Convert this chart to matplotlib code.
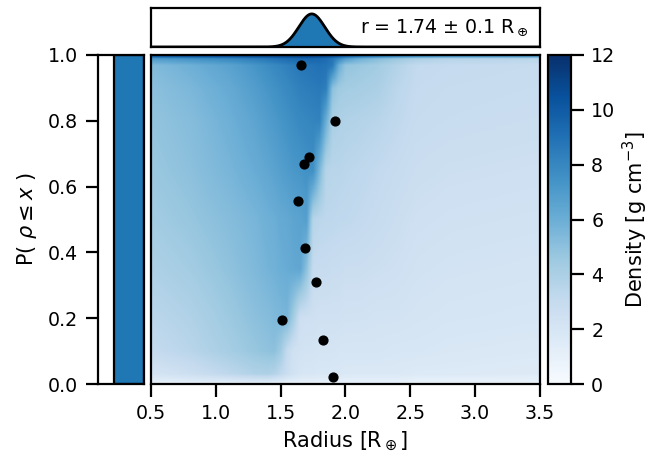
import numpy as np
import matplotlib
matplotlib.use("Agg")
import matplotlib.pyplot as plt

# ---- data ----
radius_mean = 1.74
radius_err = 0.1

# scatter points (radius, P)
pt_radius = [1.66, 1.92, 1.72, 1.68, 1.63, 1.69, 1.77, 1.51, 1.83, 1.90]
pt_prob = [0.969, 0.800, 0.690, 0.668, 0.556, 0.414, 0.309, 0.196, 0.135, 0.021]

# bar in the left panel
bar_value = [1.0]

# density map: rows = P levels, columns = radius knots
grid_radius = [0.5, 0.8, 1.1, 1.3, 1.4, 1.45, 1.5, 1.55, 1.6, 1.65, 1.7, 1.75,
               1.8, 1.85, 1.9, 1.95, 2.0, 2.1, 2.25, 2.4, 2.55, 2.8, 3.5]
grid_prob = [0.0, 0.03, 0.1, 0.2, 0.35, 0.5, 0.65, 0.8, 0.9, 0.97, 0.99, 1.0]
density_table = [
    [1.0, 1.1, 1.2, 1.3, 1.3, 1.2, 1.1, 1.0, 1.0, 1.0, 1.0, 1.0, 0.9, 0.9, 0.9, 0.9, 0.9, 0.9, 0.9, 0.9, 0.8, 0.8, 0.8],
    [2.1, 2.6, 3.3, 3.8, 3.9, 3.7, 3.2, 2.7, 2.3, 2.0, 1.9, 1.9, 1.8, 1.8, 1.8, 1.8, 1.7, 1.7, 1.7, 1.7, 1.6, 1.6, 1.5],
    [3.0, 3.5, 4.2, 4.7, 4.9, 5.0, 4.4, 3.0, 2.4, 2.3, 2.2, 2.2, 2.1, 2.1, 2.1, 2.0, 2.0, 2.0, 2.0, 1.9, 1.9, 1.8, 1.7],
    [3.4, 3.8, 4.5, 5.0, 5.2, 5.4, 5.5, 5.6, 4.2, 2.6, 2.5, 2.5, 2.4, 2.4, 2.4, 2.4, 2.3, 2.3, 2.2, 2.2, 2.1, 2.0, 1.9],
    [3.9, 4.3, 4.9, 5.4, 5.7, 5.8, 6.0, 6.1, 6.3, 6.4, 5.0, 3.0, 2.9, 2.9, 2.8, 2.8, 2.7, 2.7, 2.6, 2.5, 2.3, 2.2, 2.1],
    [4.3, 4.7, 5.2, 5.6, 5.9, 6.0, 6.2, 6.3, 6.5, 6.6, 6.8, 3.6, 3.4, 3.3, 3.3, 3.2, 3.2, 3.1, 2.9, 2.7, 2.5, 2.4, 2.3],
    [4.6, 5.0, 5.6, 6.1, 6.4, 6.6, 6.8, 7.0, 7.2, 7.3, 7.5, 7.6, 5.5, 3.6, 3.5, 3.5, 3.4, 3.3, 3.1, 2.9, 2.7, 2.6, 2.5],
    [4.8, 5.2, 5.9, 6.5, 6.9, 7.1, 7.3, 7.5, 7.7, 7.9, 8.0, 8.1, 8.2, 6.0, 4.0, 3.9, 3.8, 3.7, 3.5, 3.2, 2.9, 2.8, 2.7],
    [5.0, 5.5, 6.2, 6.9, 7.3, 7.5, 7.7, 7.9, 8.1, 8.3, 8.4, 8.5, 8.6, 8.4, 5.0, 4.4, 4.3, 4.2, 4.0, 3.4, 3.0, 2.9, 2.8],
    [5.3, 5.9, 6.6, 7.3, 7.7, 7.9, 8.1, 8.3, 8.5, 8.7, 8.8, 8.9, 9.0, 8.9, 8.6, 6.0, 4.8, 4.6, 4.3, 3.7, 3.1, 3.0, 2.9],
    [7.0, 7.5, 8.0, 8.5, 8.8, 9.0, 9.2, 9.3, 9.4, 9.5, 9.5, 9.5, 9.4, 9.2, 8.8, 8.0, 7.0, 6.0, 5.2, 4.6, 4.0, 3.6, 3.5],
    [11.0, 11.2, 11.4, 11.5, 11.6, 11.6, 11.6, 11.7, 11.7, 11.7, 11.7, 11.7, 11.6, 11.5, 11.3, 11.0, 10.7, 10.3, 9.8, 9.3, 9.0, 8.8, 8.6],
]

xticks = [0.5, 1.0, 1.5, 2.0, 2.5, 3.0, 3.5]
yticks = [0.0, 0.2, 0.4, 0.6, 0.8, 1.0]
cticks = [0, 2, 4, 6, 8, 10, 12]

TICK_FS = 13.7
LABEL_FS = 15
LW = 1.6
TLEN = 9
TPAD = 5.5

plt.rcParams['font.family'] = ['DejaVu Sans']
plt.rcParams['axes.linewidth'] = LW

# resample the table on a fine regular grid for imshow
tab = np.array(density_table)
fine_r = np.linspace(0.5, 3.5, 600)
fine_p = np.linspace(0.0, 1.0, 400)
rows = np.array([np.interp(fine_r, grid_radius, row) for row in tab])
img = np.array([np.interp(fine_p, grid_prob, rows[:, j]) for j in range(len(fine_r))]).T

fig = plt.figure(figsize=(6.53, 4.62), dpi=100)
W, H = 653.0, 462.0
def box(x0, y0, x1, y1):
    # pixel box (top-left origin) -> figure fraction
    return [x0 / W, 1 - y1 / H, (x1 - x0) / W, (y1 - y0) / H]

ax = fig.add_axes(box(151, 55, 540, 384))
ax_top = fig.add_axes(box(151, 8, 540, 47))
ax_left = fig.add_axes(box(98, 55, 144, 384))
cax = fig.add_axes(box(548, 55, 571, 384))

im = ax.imshow(img, origin='lower', extent=[0.5, 3.5, 0, 1], aspect='auto',
               cmap='Blues', vmin=0, vmax=12, interpolation='bilinear')
ax.scatter(pt_radius, pt_prob, s=40, color='black', zorder=3)
ax.set_xlim(0.5, 3.5)
ax.set_ylim(0, 1)
ax.set_xticks(xticks)
ax.set_yticks([])
ax.tick_params(axis='x', labelsize=TICK_FS, length=TLEN, width=LW, pad=TPAD)
ax.set_xlabel(r'Radius [R$_\oplus$]', fontsize=LABEL_FS, labelpad=5)

# top panel: radius posterior
gx = np.linspace(0.5, 3.5, 600)
gy = np.exp(-0.5 * ((gx - radius_mean) / radius_err) ** 2) / (radius_err * np.sqrt(2 * np.pi))
ax_top.fill_between(gx, 0, gy, color='C0')
ax_top.plot(gx, gy, color='black', lw=2)
ax_top.set_xlim(0.5, 3.5)
ax_top.set_ylim(0, 4.7)
ax_top.set_xticks([])
ax_top.set_yticks([])
ax_top.text(0.97, 0.5, r'r = %.2f $\pm$ %.1f R$_\oplus$' % (radius_mean, radius_err),
            transform=ax_top.transAxes, ha='right', va='center', fontsize=TICK_FS)

# left panel bar
ax_left.bar([0.35], bar_value, width=0.65, align='edge', color='C0',
            edgecolor='black', linewidth=LW)
ax_left.set_xlim(0, 1)
ax_left.set_ylim(0, 1)
ax_left.set_xticks([])
ax_left.set_yticks(yticks)
ax_left.tick_params(axis='y', labelsize=TICK_FS, length=TLEN, width=LW, pad=TPAD)
ax_left.set_ylabel(r'P( $\rho \leq x$ )', fontsize=LABEL_FS, labelpad=6)

cb = fig.colorbar(im, cax=cax, ticks=cticks)
cb.outline.set_linewidth(LW)
cb.ax.tick_params(labelsize=TICK_FS, length=TLEN, width=LW, pad=TPAD)
cb.set_label(r'Density [g cm$^{-3}$]', fontsize=LABEL_FS, labelpad=4)

fig.savefig('out.png', dpi=100)
